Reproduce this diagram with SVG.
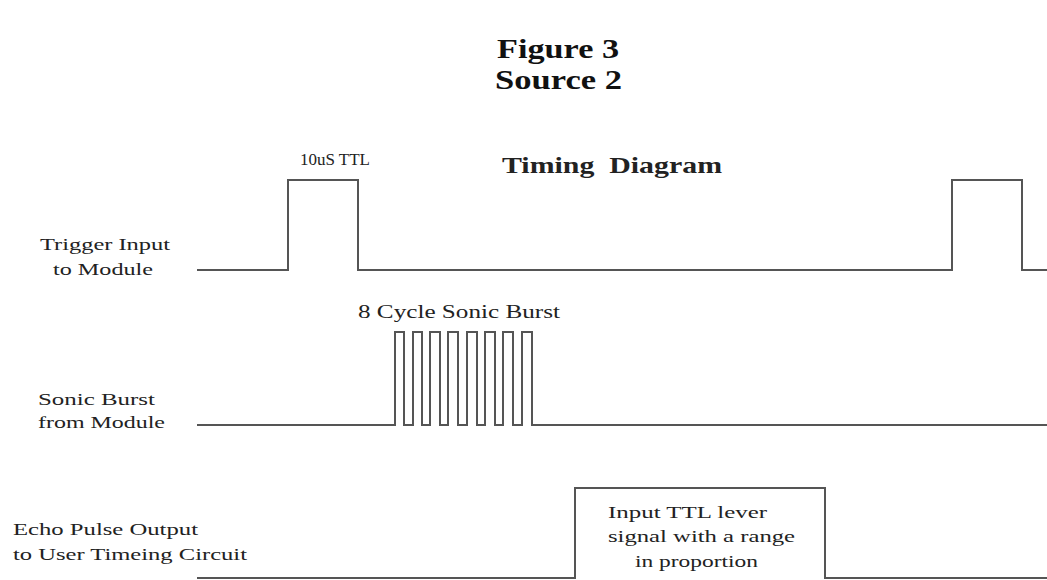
<svg xmlns="http://www.w3.org/2000/svg" width="1047" height="580" viewBox="0 0 1047 580">
<style>
.t{font-family:"Liberation Serif","Times New Roman",serif;fill:#222}
.title{font-family:"Liberation Serif","Times New Roman",serif;font-weight:bold;font-size:27px;fill:#111}
.w{fill:none;stroke:#555;stroke-width:2}
</style>
<rect width="1047" height="580" fill="#fff"/>
<g id="title">
<text class="title" x="497" y="58" textLength="122" lengthAdjust="spacingAndGlyphs">Figure 3</text>
<text class="title" x="495" y="89" textLength="127" lengthAdjust="spacingAndGlyphs">Source 2</text>
</g>
<g id="heading">
<text class="t" x="502" y="173" font-size="23" font-weight="bold" fill="#333" textLength="220" lengthAdjust="spacingAndGlyphs">Timing&#160; Diagram</text>
</g>
<g id="labels">
<text class="t" x="40" y="250" font-size="16" textLength="130" lengthAdjust="spacingAndGlyphs">Trigger Input</text>
<text class="t" x="53" y="275" font-size="16" textLength="100" lengthAdjust="spacingAndGlyphs">to Module</text>
<text class="t" x="38" y="405" font-size="16" textLength="117" lengthAdjust="spacingAndGlyphs">Sonic Burst</text>
<text class="t" x="38" y="428" font-size="16" textLength="127" lengthAdjust="spacingAndGlyphs">from Module</text>
<text class="t" x="13" y="535" font-size="16" textLength="185" lengthAdjust="spacingAndGlyphs">Echo Pulse Output</text>
<text class="t" x="13" y="560" font-size="16" textLength="234" lengthAdjust="spacingAndGlyphs">to User Timeing Circuit</text>
</g>
<g id="connectors">
<polyline id="trigger" class="w" points="197,270 288,270 288,180 358,180 358,270 952,270 952,180 1022,180 1022,270 1047,270"/>
<polyline id="burst" class="w" points="197,425 395,425 395,332 404,332 404,425 413,425 413,332 422,332 422,425 430,425 430,332 440,332 440,425 448,425 448,332 458,332 458,425 467,425 467,332 477,332 477,425 485,425 485,332 495,332 495,425 503,425 503,332 513,332 513,425 522,425 522,332 532,332 532,425 1047,425"/>
<polyline id="echo" class="w" points="197,578 575,578 575,488 825,488 825,578 1047,578"/>
</g>
<g id="pulse-labels">
<text class="t" x="300" y="165" font-size="17" textLength="70" lengthAdjust="spacingAndGlyphs">10uS TTL</text>
<text class="t" x="358" y="318" font-size="18" textLength="202" lengthAdjust="spacingAndGlyphs">8 Cycle Sonic Burst</text>
<text class="t" x="608" y="518" font-size="16" textLength="159" lengthAdjust="spacingAndGlyphs">Input TTL lever</text>
<text class="t" x="608" y="542" font-size="16" textLength="187" lengthAdjust="spacingAndGlyphs">signal with a range</text>
<text class="t" x="635" y="567" font-size="16" textLength="123" lengthAdjust="spacingAndGlyphs">in proportion</text>
</g>
</svg>
